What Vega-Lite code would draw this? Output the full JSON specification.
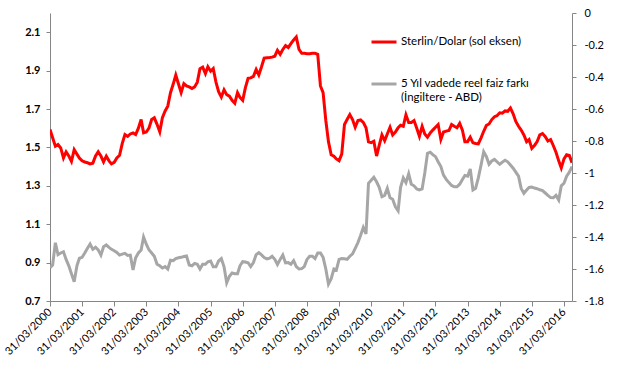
{
"$schema":"https://vega.github.io/schema/vega-lite/v6.json",
"width":522,"height":288,
"autosize":{"type":"none"},
"padding":{"left":50,"top":13,"right":56,"bottom":68},
"background":"white",
"config":{"view":{"stroke":null},"font":"Lato"},
"data":{"values":[
{"d":"2000-03-31","s":1.593,"r":-1.592},{"d":"2000-04-30","s":1.55,"r":-1.575},{"d":"2000-05-31","s":1.506,"r":-1.436},{"d":"2000-06-30","s":1.515,"r":-1.51},{"d":"2000-07-31","s":1.497,"r":-1.5},{"d":"2000-08-31","s":1.445,"r":-1.492},{"d":"2000-09-30","s":1.477,"r":-1.54},{"d":"2000-10-31","s":1.455,"r":-1.58},{"d":"2000-11-30","s":1.427,"r":-1.63},{"d":"2000-12-31","s":1.488,"r":-1.679},
{"d":"2001-01-31","s":1.465,"r":-1.58},{"d":"2001-02-28","s":1.445,"r":-1.533},{"d":"2001-03-31","s":1.43,"r":-1.527},{"d":"2001-04-30","s":1.424,"r":-1.5},{"d":"2001-05-31","s":1.42,"r":-1.47},{"d":"2001-06-30","s":1.414,"r":-1.444},{"d":"2001-07-31","s":1.418,"r":-1.477},{"d":"2001-08-31","s":1.455,"r":-1.464},{"d":"2001-09-30","s":1.477,"r":-1.48},{"d":"2001-10-31","s":1.455,"r":-1.513},{"d":"2001-11-30","s":1.424,"r":-1.461},{"d":"2001-12-31","s":1.454,"r":-1.45},
{"d":"2002-01-31","s":1.43,"r":-1.465},{"d":"2002-02-28","s":1.414,"r":-1.477},{"d":"2002-03-31","s":1.422,"r":-1.486},{"d":"2002-04-30","s":1.445,"r":-1.497},{"d":"2002-05-31","s":1.459,"r":-1.513},{"d":"2002-06-30","s":1.52,"r":-1.507},{"d":"2002-07-31","s":1.567,"r":-1.502},{"d":"2002-08-31","s":1.558,"r":-1.515},{"d":"2002-09-30","s":1.57,"r":-1.513},{"d":"2002-10-31","s":1.575,"r":-1.606},{"d":"2002-11-30","s":1.567,"r":-1.53},{"d":"2002-12-31","s":1.6,"r":-1.5},
{"d":"2003-01-31","s":1.645,"r":-1.481},{"d":"2003-02-28","s":1.576,"r":-1.4},{"d":"2003-03-31","s":1.58,"r":-1.445},{"d":"2003-04-30","s":1.6,"r":-1.48},{"d":"2003-05-31","s":1.645,"r":-1.5},{"d":"2003-06-30","s":1.654,"r":-1.52},{"d":"2003-07-31","s":1.62,"r":-1.57},{"d":"2003-08-31","s":1.581,"r":-1.58},{"d":"2003-09-30","s":1.655,"r":-1.594},{"d":"2003-10-31","s":1.69,"r":-1.585},{"d":"2003-11-30","s":1.715,"r":-1.6},{"d":"2003-12-31","s":1.785,"r":-1.545},
{"d":"2004-01-31","s":1.83,"r":-1.548},{"d":"2004-02-29","s":1.877,"r":-1.535},{"d":"2004-03-31","s":1.83,"r":-1.53},{"d":"2004-04-30","s":1.785,"r":-1.527},{"d":"2004-05-31","s":1.832,"r":-1.522},{"d":"2004-06-30","s":1.82,"r":-1.519},{"d":"2004-07-31","s":1.815,"r":-1.575},{"d":"2004-08-31","s":1.807,"r":-1.58},{"d":"2004-09-30","s":1.815,"r":-1.565},{"d":"2004-10-31","s":1.84,"r":-1.57},{"d":"2004-11-30","s":1.91,"r":-1.6},{"d":"2004-12-31","s":1.918,"r":-1.57},
{"d":"2005-01-31","s":1.884,"r":-1.57},{"d":"2005-02-28","s":1.92,"r":-1.555},{"d":"2005-03-31","s":1.897,"r":-1.55},{"d":"2005-04-30","s":1.911,"r":-1.586},{"d":"2005-05-31","s":1.84,"r":-1.586},{"d":"2005-06-30","s":1.79,"r":-1.55},{"d":"2005-07-31","s":1.762,"r":-1.535},{"d":"2005-08-31","s":1.8,"r":-1.586},{"d":"2005-09-30","s":1.775,"r":-1.686},{"d":"2005-10-31","s":1.767,"r":-1.645},{"d":"2005-11-30","s":1.745,"r":-1.625},{"d":"2005-12-31","s":1.73,"r":-1.63},
{"d":"2006-01-31","s":1.785,"r":-1.63},{"d":"2006-02-28","s":1.76,"r":-1.58},{"d":"2006-03-31","s":1.745,"r":-1.554},{"d":"2006-04-30","s":1.81,"r":-1.556},{"d":"2006-05-31","s":1.86,"r":-1.561},{"d":"2006-06-30","s":1.862,"r":-1.585},{"d":"2006-07-31","s":1.87,"r":-1.56},{"d":"2006-08-31","s":1.906,"r":-1.51},{"d":"2006-09-30","s":1.877,"r":-1.498},{"d":"2006-10-31","s":1.92,"r":-1.512},{"d":"2006-11-30","s":1.965,"r":-1.528},{"d":"2006-12-31","s":1.967,"r":-1.537},
{"d":"2007-01-31","s":1.968,"r":-1.532},{"d":"2007-02-28","s":1.97,"r":-1.52},{"d":"2007-03-31","s":1.975,"r":-1.54},{"d":"2007-04-30","s":2.006,"r":-1.572},{"d":"2007-05-31","s":1.985,"r":-1.54},{"d":"2007-06-30","s":2.01,"r":-1.513},{"d":"2007-07-31","s":2.03,"r":-1.562},{"d":"2007-08-31","s":2.02,"r":-1.56},{"d":"2007-09-30","s":2.04,"r":-1.57},{"d":"2007-10-31","s":2.06,"r":-1.548},{"d":"2007-11-30","s":2.075,"r":-1.585},{"d":"2007-12-31","s":2.01,"r":-1.6},
{"d":"2008-01-31","s":1.99,"r":-1.598},{"d":"2008-02-29","s":1.99,"r":-1.585},{"d":"2008-03-31","s":1.988,"r":-1.54},{"d":"2008-04-30","s":1.988,"r":-1.52},{"d":"2008-05-31","s":1.99,"r":-1.52},{"d":"2008-06-30","s":1.99,"r":-1.535},{"d":"2008-07-31","s":1.985,"r":-1.5},{"d":"2008-08-31","s":1.82,"r":-1.5},{"d":"2008-09-30","s":1.785,"r":-1.527},{"d":"2008-10-31","s":1.64,"r":-1.6},{"d":"2008-11-30","s":1.53,"r":-1.694},{"d":"2008-12-31","s":1.462,"r":-1.66},
{"d":"2009-01-31","s":1.454,"r":-1.6},{"d":"2009-02-28","s":1.44,"r":-1.606},{"d":"2009-03-31","s":1.431,"r":-1.54},{"d":"2009-04-30","s":1.465,"r":-1.534},{"d":"2009-05-31","s":1.619,"r":-1.536},{"d":"2009-06-30","s":1.645,"r":-1.54},{"d":"2009-07-31","s":1.671,"r":-1.52},{"d":"2009-08-31","s":1.645,"r":-1.505},{"d":"2009-09-30","s":1.605,"r":-1.471},{"d":"2009-10-31","s":1.64,"r":-1.435},{"d":"2009-11-30","s":1.643,"r":-1.39},{"d":"2009-12-31","s":1.63,"r":-1.34},
{"d":"2010-01-31","s":1.602,"r":-1.381},{"d":"2010-02-28","s":1.529,"r":-1.064},{"d":"2010-03-31","s":1.525,"r":-1.045},{"d":"2010-04-30","s":1.532,"r":-1.027},{"d":"2010-05-31","s":1.455,"r":-1.055},{"d":"2010-06-30","s":1.51,"r":-1.09},{"d":"2010-07-31","s":1.565,"r":-1.148},{"d":"2010-08-31","s":1.535,"r":-1.14},{"d":"2010-09-30","s":1.57,"r":-1.096},{"d":"2010-10-31","s":1.605,"r":-1.155},{"d":"2010-11-30","s":1.565,"r":-1.164},{"d":"2010-12-31","s":1.58,"r":-1.211},
{"d":"2011-01-31","s":1.602,"r":-1.236},{"d":"2011-02-28","s":1.615,"r":-1.09},{"d":"2011-03-31","s":1.61,"r":-1.03},{"d":"2011-04-30","s":1.67,"r":-1.06},{"d":"2011-05-31","s":1.63,"r":-1.005},{"d":"2011-06-30","s":1.63,"r":-1.07},{"d":"2011-07-31","s":1.64,"r":-1.08},{"d":"2011-08-31","s":1.6,"r":-1.1},{"d":"2011-09-30","s":1.558,"r":-1.106},{"d":"2011-10-31","s":1.61,"r":-1.1},{"d":"2011-11-30","s":1.57,"r":-1.0},{"d":"2011-12-31","s":1.553,"r":-0.877},
{"d":"2012-01-31","s":1.575,"r":-0.87},{"d":"2012-02-29","s":1.59,"r":-0.885},{"d":"2012-03-31","s":1.605,"r":-0.898},{"d":"2012-04-30","s":1.619,"r":-0.93},{"d":"2012-05-31","s":1.541,"r":-0.96},{"d":"2012-06-30","s":1.58,"r":-1.013},{"d":"2012-07-31","s":1.585,"r":-1.04},{"d":"2012-08-31","s":1.588,"r":-1.06},{"d":"2012-09-30","s":1.619,"r":-1.078},{"d":"2012-10-31","s":1.61,"r":-1.086},{"d":"2012-11-30","s":1.602,"r":-1.086},{"d":"2012-12-31","s":1.625,"r":-1.07},
{"d":"2013-01-31","s":1.59,"r":-1.04},{"d":"2013-02-28","s":1.53,"r":-1.015},{"d":"2013-03-31","s":1.53,"r":-1.02},{"d":"2013-04-30","s":1.553,"r":-0.975},{"d":"2013-05-31","s":1.524,"r":-1.106},{"d":"2013-06-30","s":1.52,"r":-1.096},{"d":"2013-07-31","s":1.518,"r":-1.03},{"d":"2013-08-31","s":1.55,"r":-0.95},{"d":"2013-09-30","s":1.584,"r":-0.867},{"d":"2013-10-31","s":1.615,"r":-0.898},{"d":"2013-11-30","s":1.622,"r":-0.945},{"d":"2013-12-31","s":1.645,"r":-0.925},
{"d":"2014-01-31","s":1.66,"r":-0.915},{"d":"2014-02-28","s":1.665,"r":-0.93},{"d":"2014-03-31","s":1.68,"r":-0.946},{"d":"2014-04-30","s":1.678,"r":-0.932},{"d":"2014-05-31","s":1.69,"r":-0.92},{"d":"2014-06-30","s":1.688,"r":-0.93},{"d":"2014-07-31","s":1.705,"r":-0.95},{"d":"2014-08-31","s":1.675,"r":-0.97},{"d":"2014-09-30","s":1.635,"r":-0.995},{"d":"2014-10-31","s":1.61,"r":-1.02},{"d":"2014-11-30","s":1.59,"r":-1.096},{"d":"2014-12-31","s":1.565,"r":-1.127},
{"d":"2015-01-31","s":1.53,"r":-1.106},{"d":"2015-02-28","s":1.541,"r":-1.09},{"d":"2015-03-31","s":1.495,"r":-1.088},{"d":"2015-04-30","s":1.51,"r":-1.094},{"d":"2015-05-31","s":1.53,"r":-1.098},{"d":"2015-06-30","s":1.565,"r":-1.105},{"d":"2015-07-31","s":1.572,"r":-1.11},{"d":"2015-08-31","s":1.556,"r":-1.125},{"d":"2015-09-30","s":1.533,"r":-1.14},{"d":"2015-10-31","s":1.541,"r":-1.154},{"d":"2015-11-30","s":1.51,"r":-1.155},{"d":"2015-12-31","s":1.475,"r":-1.14},
{"d":"2016-01-31","s":1.43,"r":-1.169},{"d":"2016-02-29","s":1.393,"r":-1.08},{"d":"2016-03-31","s":1.44,"r":-1.064},{"d":"2016-04-30","s":1.462,"r":-1.02},{"d":"2016-05-31","s":1.458,"r":-0.995},{"d":"2016-06-30","s":1.42,"r":-0.96}
]},
"encoding":{
 "x":{"field":"d","type":"temporal",
  "scale":{"type":"utc","domain":[{"year":2000,"month":3,"date":31,"utc":true},{"year":2016,"month":6,"date":30,"utc":true}]},
  "axis":{"title":null,"grid":false,"labelExpr":"utcFormat(datum.value, '%d/%m/%Y')",
   "values":[{"year":2000,"month":3,"date":31,"utc":true},{"year":2001,"month":3,"date":31,"utc":true},{"year":2002,"month":3,"date":31,"utc":true},{"year":2003,"month":3,"date":31,"utc":true},{"year":2004,"month":3,"date":31,"utc":true},{"year":2005,"month":3,"date":31,"utc":true},{"year":2006,"month":3,"date":31,"utc":true},{"year":2007,"month":3,"date":31,"utc":true},{"year":2008,"month":3,"date":31,"utc":true},{"year":2009,"month":3,"date":31,"utc":true},{"year":2010,"month":3,"date":31,"utc":true},{"year":2011,"month":3,"date":31,"utc":true},{"year":2012,"month":3,"date":31,"utc":true},{"year":2013,"month":3,"date":31,"utc":true},{"year":2014,"month":3,"date":31,"utc":true},{"year":2015,"month":3,"date":31,"utc":true},{"year":2016,"month":3,"date":31,"utc":true}],
   "labelAngle":-45,"labelAlign":"right","labelBaseline":"middle","labelPadding":4,"labelFontSize":11,"labelColor":"#000000","labelOverlap":false,"labelFlush":false,
   "domainColor":"#868686","tickColor":"#868686","tickSize":5}}
},
"layer":[
 {"mark":{"type":"line","strokeWidth":3,"clip":true},
  "encoding":{
   "y":{"field":"s","type":"quantitative","scale":{"domain":[0.7,2.2],"nice":false,"zero":false},
    "axis":{"title":null,"grid":false,"orient":"left","values":[0.7,0.9,1.1,1.3,1.5,1.7,1.9,2.1],"format":".1f","labelFontSize":11,"labelFontWeight":"bold","labelColor":"#000000","domainColor":"#868686","tickColor":"#868686","tickSize":4,"labelPadding":6}},
   "color":{"datum":"Sterlin/Dolar (sol eksen)","type":"nominal",
    "scale":{"domain":["Sterlin/Dolar (sol eksen)","5 Yıl vadede reel faiz farkı (İngiltere - ABD)"],"range":["#FF0000","#A6A6A6"]},
    "legend":{"title":null,"orient":"none","legendX":320,"legendY":15,"symbolType":"stroke","symbolSize":625,"symbolStrokeWidth":3,"labelFontSize":11.5,"labelColor":"#000000","labelLimit":300,"labelOffset":3,"rowPadding":22,
     "labelExpr":"datum.label == 'Sterlin/Dolar (sol eksen)' ? datum.label : ['5 Yıl vadede reel faiz farkı', '(İngiltere - ABD)']"}}
  }},
 {"mark":{"type":"line","strokeWidth":3,"clip":true},
  "encoding":{
   "y":{"field":"r","type":"quantitative","scale":{"domain":[-1.8,0],"nice":false,"zero":false},
    "axis":{"title":null,"grid":false,"orient":"right","values":[-1.8,-1.6,-1.4,-1.2,-1,-0.8,-0.6,-0.4,-0.2,0],"labelExpr":"datum.value == 0 ? '0' : '' + round(datum.value*10)/10","labelFontSize":11,"labelColor":"#000000","domainColor":"#868686","tickColor":"#868686","tickSize":4,"labelPadding":8}},
   "color":{"datum":"5 Yıl vadede reel faiz farkı (İngiltere - ABD)","type":"nominal"}
  }}
],
"resolve":{"scale":{"y":"independent"}}
}
